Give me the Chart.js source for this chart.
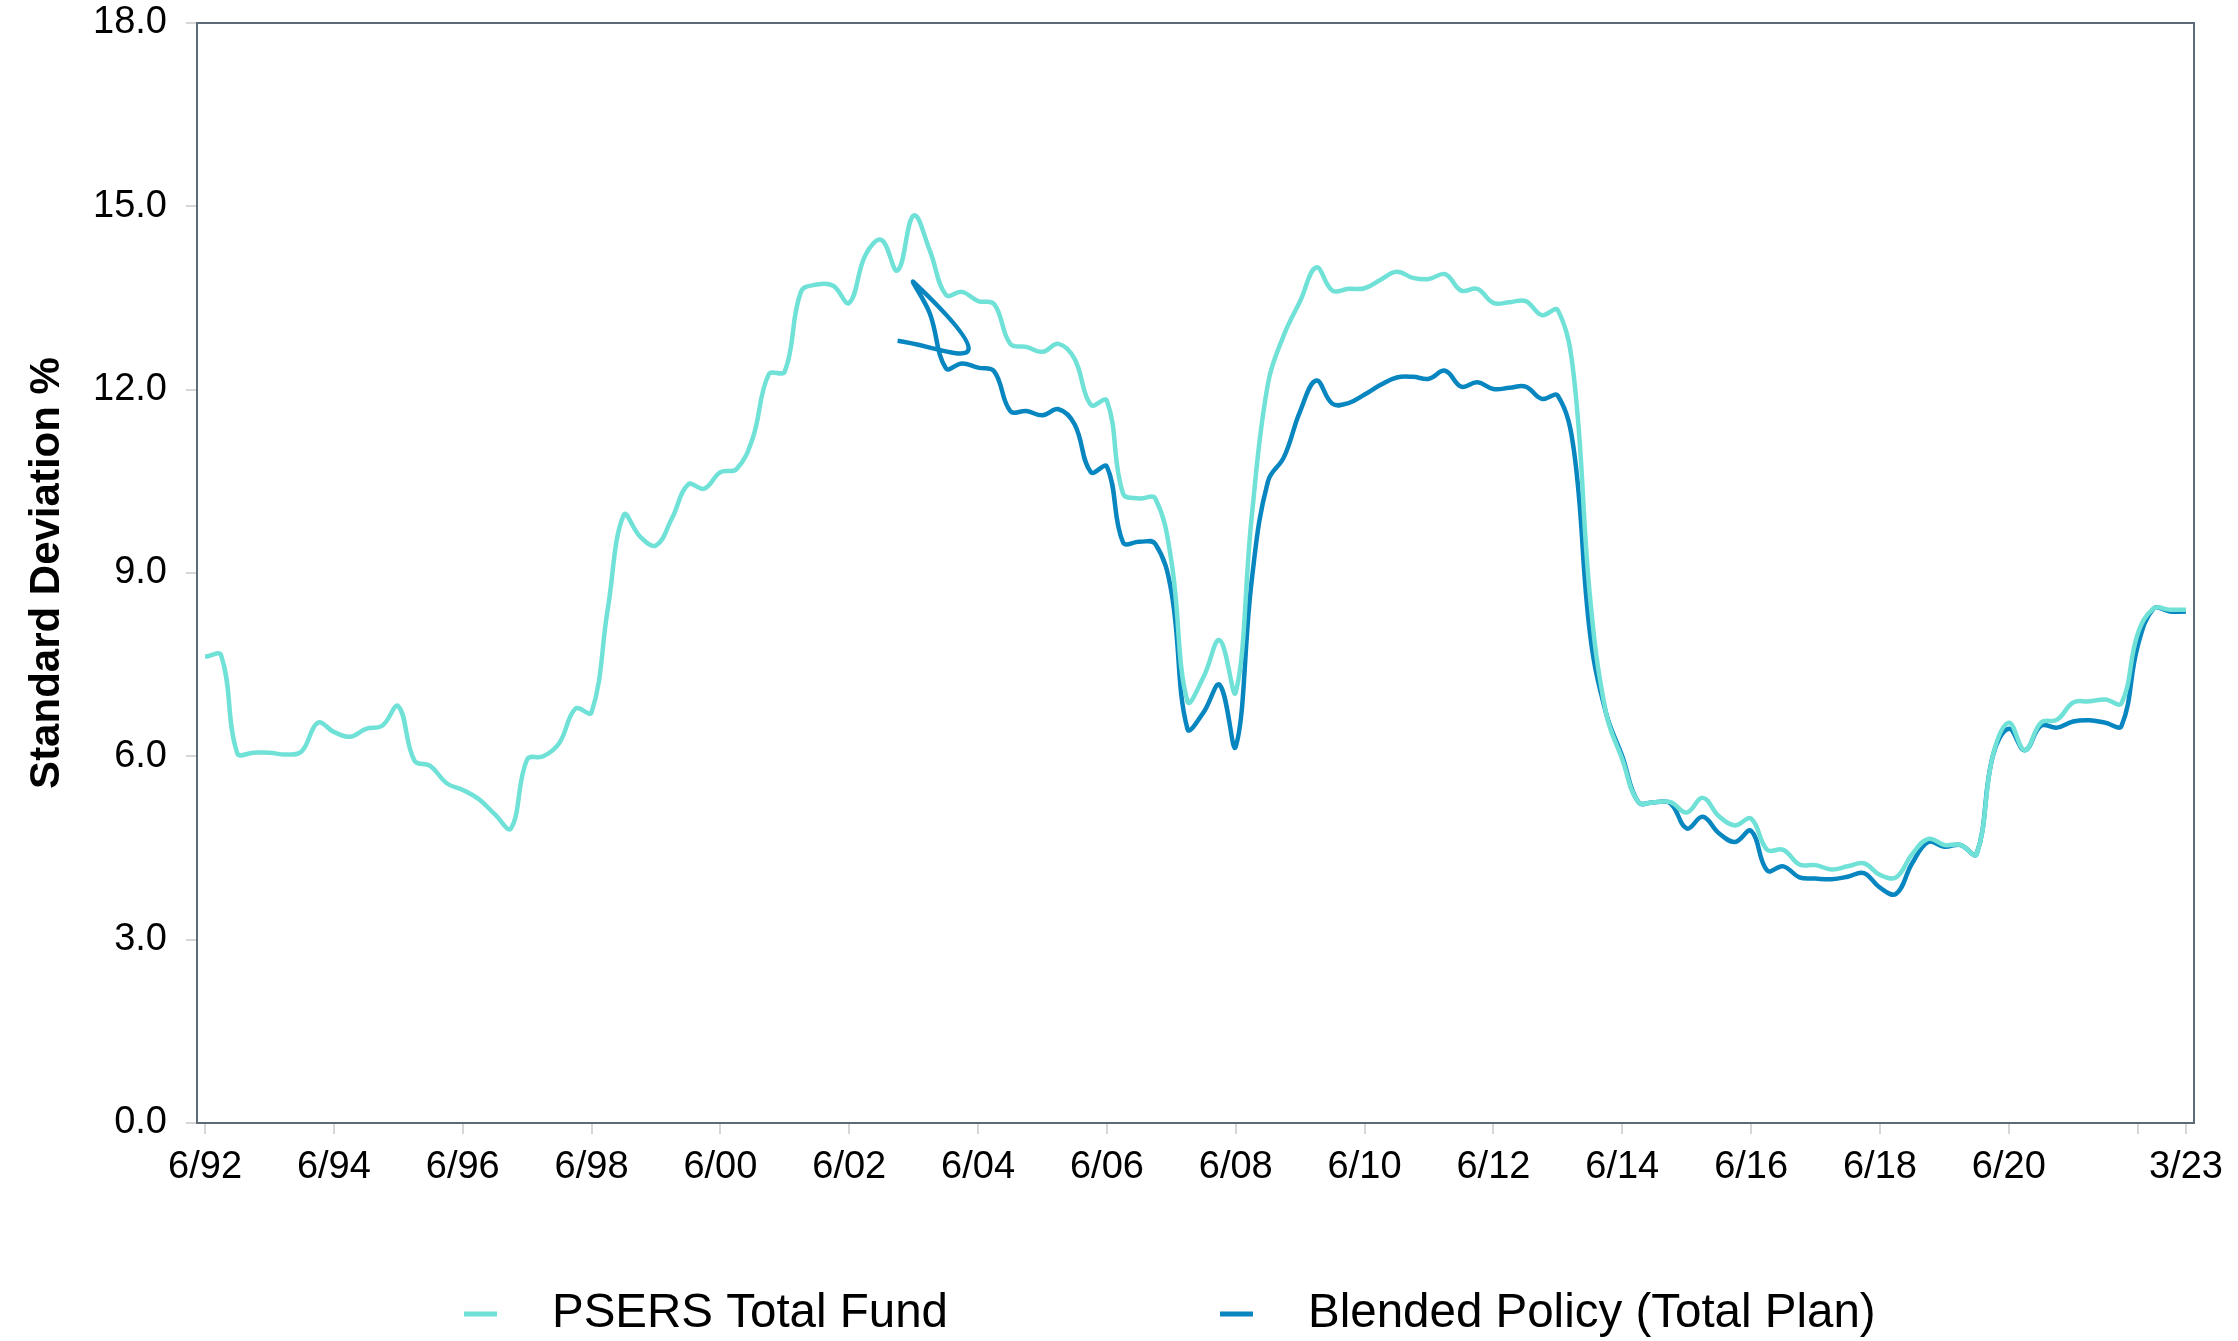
<!DOCTYPE html>
<html>
<head>
<meta charset="utf-8">
<title>Standard Deviation</title>
<script src="https://cdn.jsdelivr.net/npm/chart.js@4.4.1/dist/chart.umd.min.js"></script>
<style>
html,body{margin:0;padding:0;background:#fff;}
#wrap{width:2238px;height:1341px;position:relative;}
</style>
</head>
<body>
<div id="wrap"><canvas id="sdChart"></canvas></div>
<script>
// x = quarter index, 0 = 6/92 ... 123 = 3/23
const tickQtr=[0,8,16,24,32,40,48,56,64,72,80,88,96,104,112,120,123];
const tickLabels=["6/92","6/94","6/96","6/98","6/00","6/02","6/04","6/06","6/08","6/10","6/12","6/14","6/16","6/18","6/20","","3/23"];

const psersFund=[
  7.63,7.65,6.05,6.06,6.06,6.03,6.08,6.55,6.4,6.32,
  6.45,6.5,6.82,5.93,5.84,5.56,5.45,5.3,5.05,4.82,
  5.95,6.0,6.22,6.78,6.72,8.4,9.95,9.6,9.45,9.9,
  10.45,10.38,10.65,10.7,11.2,12.25,12.3,13.6,13.72,13.7,
  13.42,14.2,14.45,13.95,14.85,14.28,13.55,13.6,13.45,13.4,
  12.75,12.7,12.62,12.75,12.5,11.75,11.82,10.3,10.22,10.22,
  9.2,6.9,7.3,7.9,7.05,9.95,12.1,12.9,13.45,14.0,
  13.62,13.65,13.66,13.8,13.93,13.83,13.81,13.89,13.62,13.65,
  13.42,13.43,13.45,13.22,13.3,12.2,8.6,6.7,5.95,5.25,
  5.25,5.25,5.08,5.32,5.02,4.87,4.98,4.47,4.47,4.23,
  4.22,4.15,4.2,4.25,4.06,4.02,4.4,4.65,4.55,4.55,
  4.4,6.0,6.55,6.1,6.55,6.6,6.88,6.9,6.93,6.87,
  8.0,8.42,8.4,8.4
];

// blended series starts at 12/02; its first points are out of date order in the source
const blendQtr=[43,47.4,44].concat(Array.from({length:79},(_,i)=>45+i));
const blendPolicy=[
  12.8,12.65,13.76,
  13.25,12.35,12.43,12.36,12.3,11.65,11.65,11.58,11.68,11.43,
  10.65,10.74,9.5,9.51,9.48,8.7,6.45,6.72,7.17,6.16,
  8.9,10.5,10.9,11.65,12.15,11.77,11.78,11.92,12.08,12.2,
  12.21,12.18,12.31,12.05,12.12,12.01,12.03,12.05,11.85,11.9,
  11.0,8.0,6.7,6.0,5.25,5.25,5.23,4.82,5.01,4.74,
  4.6,4.78,4.13,4.2,4.02,4.0,3.99,4.03,4.09,3.85,
  3.75,4.25,4.6,4.52,4.55,4.4,6.0,6.45,6.1,6.5,
  6.47,6.57,6.59,6.55,6.5,7.8,8.42,8.37,8.37
];

const FONT="'Liberation Sans', Arial, sans-serif";

const plotBox={
  id:"plotBox",
  beforeDatasetsDraw(chart){
    const {ctx,chartArea:a}=chart;
    ctx.save();
    ctx.strokeStyle="#5d6b78"; ctx.lineWidth=2;
    ctx.strokeRect(a.left,a.top,a.right-a.left,a.bottom-a.top);
    ctx.restore();
  }
};

// legend with a short dash and wide gaps, like the original
const lineLegend={
  id:"lineLegend",
  afterDraw(chart){
    const ctx=chart.ctx;
    const y=chart.chartArea.bottom+191;
    const starts=[464,1220];
    ctx.save();
    ctx.font="47.5px "+FONT; ctx.textBaseline="middle"; ctx.fillStyle="#000";
    chart.data.datasets.forEach((ds,i)=>{
      const x=starts[i];
      ctx.strokeStyle=ds.borderColor; ctx.lineWidth=5;
      ctx.beginPath(); ctx.moveTo(x,y); ctx.lineTo(x+33,y); ctx.stroke();
      ctx.fillText(ds.label,x+88,y);
    });
    ctx.restore();
  }
};

new Chart(document.getElementById("sdChart"),{
  type:"line",
  data:{
    datasets:[
      {label:"PSERS Total Fund",data:psersFund.map((v,i)=>({x:i,y:v})),borderColor:"#70e1d7",borderWidth:4.5,pointRadius:0,tension:0.4},
      {label:"Blended Policy (Total Plan)",data:blendPolicy.map((v,i)=>({x:blendQtr[i],y:v})),borderColor:"#0886c0",borderWidth:4.5,pointRadius:0,tension:0.4}
    ]
  },
  options:{
    responsive:true,
    maintainAspectRatio:false,
    animation:false,
    layout:{padding:{left:0,right:44,top:23,bottom:0}},
    plugins:{legend:{display:false},tooltip:{enabled:false}},
    scales:{
      x:{
        type:"linear",min:-0.5,max:123.5,
        afterFit:s=>{ s.height=218; },
        afterBuildTicks:s=>{ s.ticks=tickQtr.map(v=>({value:v})); },
        border:{display:false},
        grid:{drawOnChartArea:false,drawTicks:true,tickLength:11,color:"#d6d6d6",lineWidth:2},
        ticks:{autoSkip:false,maxRotation:0,padding:11,color:"#000",font:{family:FONT,size:38},callback:(v,i)=>tickLabels[i]}
      },
      y:{
        min:0,max:18,
        afterFit:s=>{ s.width=197; s.paddingTop=0; },
        border:{display:false},
        grid:{drawOnChartArea:false,drawTicks:true,tickLength:11,color:"#d6d6d6",lineWidth:2},
        ticks:{stepSize:3,padding:19,color:"#000",font:{family:FONT,size:38},callback:v=>v.toFixed(1)},
        title:{display:true,text:"Standard Deviation %",color:"#000",font:{family:FONT,size:42,weight:"bold"},padding:{top:22,bottom:0}}
      }
    }
  },
  plugins:[plotBox,lineLegend]
});
</script>
</body>
</html>
